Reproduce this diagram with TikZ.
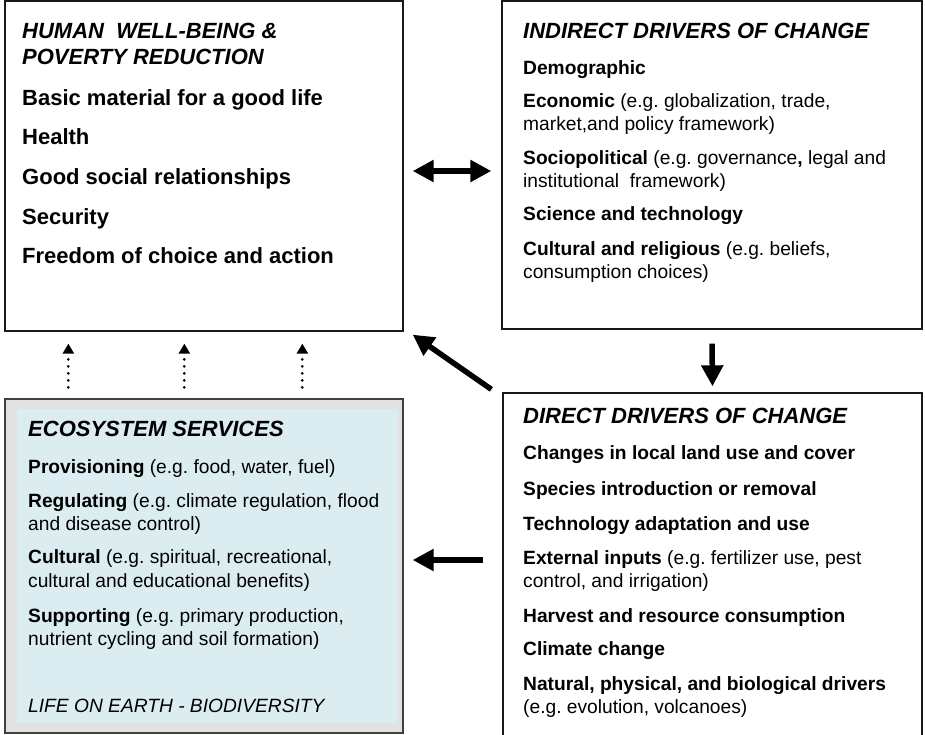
\documentclass[tikz,border=0pt]{standalone}
\usepackage{fontspec}
\setmainfont{Liberation Sans}
\usetikzlibrary{arrows.meta}
\definecolor{esfill}{RGB}{220,237,241}
\definecolor{esframe}{RGB}{226,226,226}
\definecolor{boxline}{RGB}{25,25,25}
\frenchspacing

\begin{document}
\begin{tikzpicture}[x=1pt,y=-1pt,
  box/.style={draw=boxline, line width=1.3pt, inner sep=0pt, fill=white},
  head/.style={anchor=base west, inner sep=0pt, font=\fontsize{22}{26}\selectfont\bfseries\itshape},
  bigitem/.style={anchor=base west, inner sep=0pt, font=\fontsize{22}{26}\selectfont\bfseries},
  item/.style={anchor=base west, inner sep=0pt, font=\fontsize{19.2}{23}\selectfont},
  flow/.style={line width=5.5pt, -{Triangle[length=21pt,width=21pt]}},
  link/.style={line width=3pt, dash pattern=on 0pt off 7pt, line cap=round,
               -{Triangle[length=10pt,width=11pt]}}
]
\useasboundingbox (0,0) rectangle (925,734);
\clip (0,0) rectangle (925,734);

% the four panels
\node[box, minimum width=398pt, minimum height=330pt] (hw) at (204,166) {};
\node[box, minimum width=420pt, minimum height=328pt] (ind) at (712,165) {};
\node[box, minimum width=419pt, minimum height=352pt] (dir) at (712.5,569) {};
\node[box, fill=esframe, draw=black!75, minimum width=398pt, minimum height=334pt] (eco) at (204,566) {};
\node[fill=esfill, inner sep=0pt, minimum width=381pt, minimum height=314pt] (ecoin) at (207.5,566) {};

% human well-being
\node[head] (hwh1) at (22,38) {HUMAN\ \ WELL-BEING \&};
\node[head] (hwh2) at (22,64) {POVERTY REDUCTION};
\node[bigitem] (hw1) at (22,105) {Basic material for a good life};
\node[bigitem] (hw2) at (22,144) {Health};
\node[bigitem] (hw3) at (22,184) {Good social relationships};
\node[bigitem] (hw4) at (22,224) {Security};
\node[bigitem] (hw5) at (22,263) {Freedom of choice and action};

% indirect drivers
\node[head] (indh) at (523,38) {INDIRECT DRIVERS OF CHANGE};
\node[item] (ind1) at (523,74) {\textbf{Demographic}};
\node[item] (ind2a) at (523,107) {\textbf{Economic} (e.g. globalization, trade,};
\node[item] (ind2b) at (523,130) {market,and policy framework)};
\node[item] (ind3a) at (523,164) {\textbf{Sociopolitical} (e.g. governance\textbf{,} legal and};
\node[item] (ind3b) at (523,187) {institutional\ \ framework)};
\node[item] (ind4) at (523,220) {\textbf{Science and technology}};
\node[item] (ind5a) at (523,255) {\textbf{Cultural and religious} (e.g. beliefs,};
\node[item] (ind5b) at (523,278) {consumption choices)};

% direct drivers
\node[head] (dirh) at (523,423) {DIRECT DRIVERS OF CHANGE};
\node[item] (dir1) at (523,459) {\textbf{Changes in local land use and cover}};
\node[item] (dir2) at (523,495) {\textbf{Species introduction or removal}};
\node[item] (dir3) at (523,530) {\textbf{Technology adaptation and use}};
\node[item] (dir4a) at (523,564) {\textbf{External inputs} (e.g. fertilizer use, pest};
\node[item] (dir4b) at (523,587) {control, and irrigation)};
\node[item] (dir5) at (523,622) {\textbf{Harvest and resource consumption}};
\node[item] (dir6) at (523,655) {\textbf{Climate change}};
\node[item] (dir7a) at (523,690) {\textbf{Natural, physical, and biological drivers}};
\node[item] (dir7b) at (523,713) {(e.g. evolution, volcanoes)};

% ecosystem services
\node[head] (ecoh) at (28,436) {ECOSYSTEM SERVICES};
\node[item] (eco1) at (28,473) {\textbf{Provisioning} (e.g. food, water, fuel)};
\node[item] (eco2a) at (28,507) {\textbf{Regulating} (e.g. climate regulation, flood};
\node[item] (eco2b) at (28,530) {and disease control)};
\node[item] (eco3a) at (28,563) {\textbf{Cultural} (e.g. spiritual, recreational,};
\node[item] (eco3b) at (28,587) {cultural and educational benefits)};
\node[item] (eco4a) at (28,622) {\textbf{Supporting} (e.g. primary production,};
\node[item] (eco4b) at (28,645) {nutrient cycling and soil formation)};
\node[item, font=\fontsize{19.2}{23}\selectfont\itshape] (eco5) at (28,712) {LIFE ON EARTH - BIODIVERSITY};

% connectors
\draw[flow, {Triangle[length=21pt,width=21pt]}-{Triangle[length=21pt,width=21pt]}]
  ([xshift=9pt,yshift=-5pt]hw.east) -- ([xshift=-10pt,yshift=-6pt]ind.west);
\draw[flow] ([yshift=-14pt]ind.south) -- ([yshift=6pt]dir.north);
\draw[flow] ([xshift=-11pt,yshift=3pt]dir.north west) -- ([xshift=9pt,yshift=-3pt]hw.south east);
\draw[flow] ([xshift=-19pt,yshift=9pt]dir.west) -- ([xshift=9pt,yshift=6pt]eco.east);
\draw[link] ([xshift=64pt,yshift=11pt]eco.north west) -- ([xshift=64pt,yshift=-12pt]hw.south west);
\draw[link] ([xshift=180pt,yshift=11pt]eco.north west) -- ([xshift=180pt,yshift=-12pt]hw.south west);
\draw[link] ([xshift=298pt,yshift=11pt]eco.north west) -- ([xshift=298pt,yshift=-12pt]hw.south west);
\end{tikzpicture}
\end{document}
